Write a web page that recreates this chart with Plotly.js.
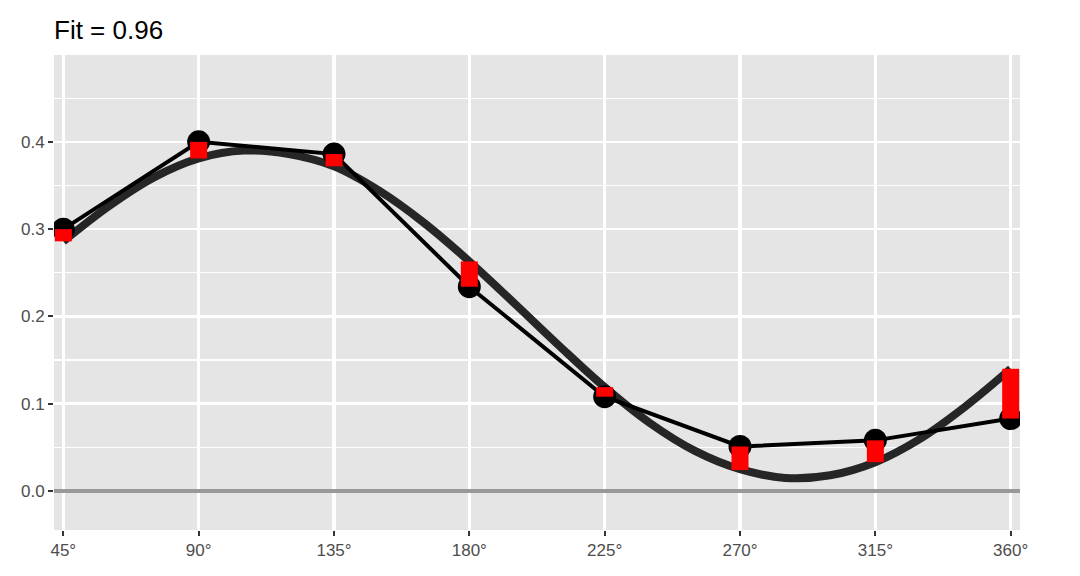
<!DOCTYPE html>
<html>
<head>
<meta charset="utf-8">
<script src="https://cdn.plot.ly/plotly-3.0.1.min.js"></script>
<style>
  html, body { margin: 0; padding: 0; background: #fff; }
  #chart { width: 1080px; height: 576px; }
</style>
</head>
<body>
<div id="chart"></div>
<script>
// Observed response per angle (black dots) and the fitted value at the same angle.
const angles = [45, 90, 135, 180, 225, 270, 315, 360];
const observed = [0.300, 0.400, 0.386, 0.234, 0.108, 0.051, 0.058, 0.083];
const fitted = [0.286, 0.381, 0.372, 0.263, 0.119, 0.024, 0.033, 0.140];

// Fitted curve every 15 degrees.
const curveAngles = [45, 60, 75, 90, 105, 120, 135, 150, 165, 180, 195, 210,
  225, 240, 255, 270, 285, 300, 315, 330, 345, 360];
const curveValues = [0.286, 0.326, 0.359, 0.381, 0.390, 0.386, 0.372, 0.344,
  0.307, 0.263, 0.215, 0.166, 0.119, 0.078, 0.046, 0.025, 0.015, 0.018,
  0.033, 0.060, 0.097, 0.140];

const tickLabels = angles.map((a) => `${a}°`);
const yTicks = [0, 0.1, 0.2, 0.3, 0.4];

const FONT = "Liberation Sans, Arial, Helvetica, sans-serif";

// residual bars: one vertical segment per angle, observed -> fitted
const segX = [];
const segY = [];
angles.forEach((a, i) => {
  segX.push(a, a, null);
  segY.push(observed[i], fitted[i], null);
});

const traces = [
  {
    type: "scatter",
    mode: "lines",
    x: curveAngles,
    y: curveValues,
    line: { color: "#262626", width: 8, shape: "spline", smoothing: 1 },
    hoverinfo: "skip",
  },
  {
    type: "scatter",
    mode: "lines+markers",
    x: angles,
    y: observed,
    line: { color: "#000", width: 4 },
    marker: { color: "#000", size: 23 },
    hoverinfo: "skip",
  },
  {
    type: "scatter",
    mode: "lines",
    x: segX,
    y: segY,
    line: { color: "#FF0000", width: 17 },
    connectgaps: false,
    hoverinfo: "skip",
  },
];

const layout = {
  width: 1080,
  height: 576,
  showlegend: false,
  paper_bgcolor: "#fff",
  plot_bgcolor: "#E5E5E5",
  margin: { l: 54, r: 60, t: 55, b: 46 },
  font: { family: FONT, size: 17, color: "#4D4D4D" },
  title: {
    text: "Fit = 0.96",
    font: { family: FONT, size: 26, color: "#000" },
    x: 0,
    xref: "paper",
    xanchor: "left",
    y: 1 - 30 / 576,
    yref: "container",
    yanchor: "middle",
  },
  xaxis: {
    range: [41.9, 363.1],
    tickmode: "array",
    tickvals: angles,
    ticktext: tickLabels,
    ticks: "outside",
    ticklen: 5,
    tickwidth: 2,
    tickcolor: "#333",
    showgrid: true,
    gridcolor: "#fff",
    gridwidth: 3.5,
    zeroline: false,
    showline: false,
    fixedrange: true,
  },
  yaxis: {
    range: [-0.0447, 0.4995],
    tickmode: "array",
    tickvals: yTicks,
    ticktext: yTicks.map((v) => v.toFixed(1)),
    ticks: "outside",
    ticklen: 5,
    tickwidth: 2,
    tickcolor: "#333",
    showgrid: true,
    gridcolor: "#fff",
    gridwidth: 2.5,
    minor: {
      tickmode: "array",
      tickvals: [-0.05, 0.05, 0.15, 0.25, 0.35, 0.45],
      showgrid: true,
      gridcolor: "#fff",
      gridwidth: 1.3,
      ticks: "",
    },
    zeroline: true,
    zerolinecolor: "#999",
    zerolinewidth: 4,
    showline: false,
    fixedrange: true,
  },
};

Plotly.newPlot("chart", traces, layout, { displayModeBar: false, staticPlot: true });
</script>
</body>
</html>
